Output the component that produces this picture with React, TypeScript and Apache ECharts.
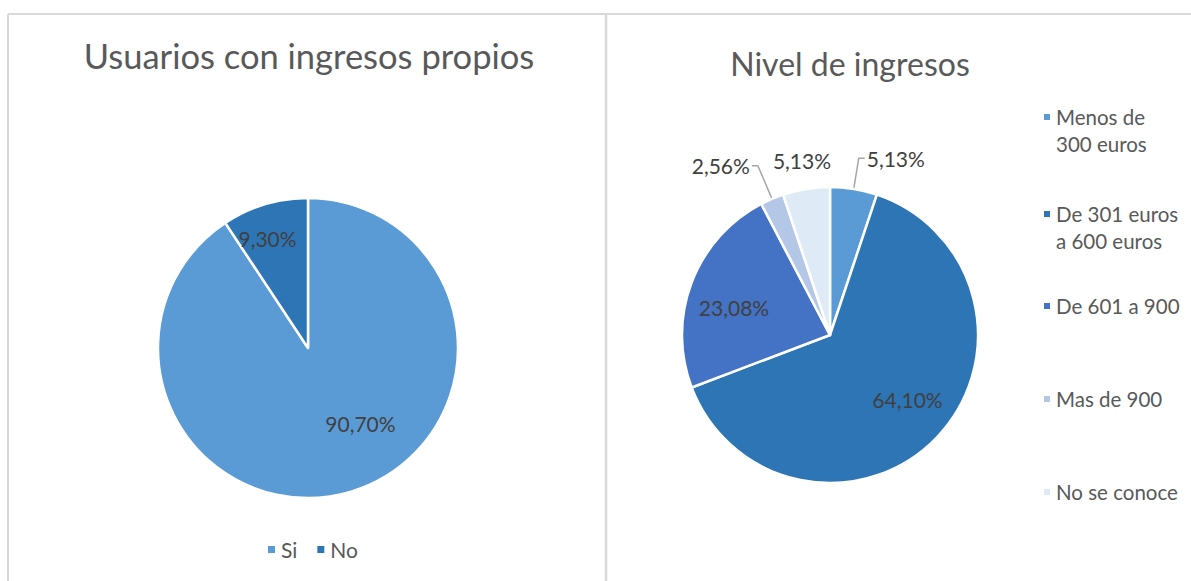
import React, { useEffect, useRef } from "react";
import * as echarts from "echarts";

const leftTitle = "Usuarios con ingresos propios";
const rightTitle = "Nivel de ingresos";

const leftCategories = ["Si", "No"];
const leftValues = [90.7, 9.3];
const leftColors = ["#5B9BD5", "#2E75B6"];

const rightCategories = [
  "Menos de 300 euros",
  "De 301 euros a 600 euros",
  "De 601 a 900",
  "Mas de 900",
  "No se conoce",
];
const rightLegendLabels = [
  "Menos de\n300 euros",
  "De 301 euros\na 600 euros",
  "De 601 a 900",
  "Mas de 900",
  "No se conoce",
];
const rightValues = [5.13, 64.1, 23.08, 2.56, 5.13];
const rightColors = ["#5B9BD5", "#2E75B6", "#4472C4", "#B4C7E7", "#DEEBF7"];

const FONT = "Lato";
const TEXT = "#595959";
const LABEL = "#404040";

const fmt = (v: number) => v.toFixed(2).replace(".", ",") + "%";

// label nudges (style)
const leftNudges = [
  [30, 1],
  [-18, -35],
];
const rightInside = [false, true, true, false, false];
const rightNudges = [
  [0, 0],
  [22, 11],
  [-24, 0],
  [0, 0],
  [31, -9],
];
const rightLineLen = [31, 0, 0, 36, 20];
const rightLineLen2 = [6, 0, 0, 6, 1];
const rightLegendTops = [103.5, 200.5, 292.5, 385.5, 478.5];

export default function App() {
  const ref = useRef<HTMLDivElement>(null);
  useEffect(() => {
    if (!ref.current) return;
    const chart = echarts.init(ref.current, undefined, { renderer: "svg" });
    const border = "#D9D9D9";
    const twoLineIcon = "path://M0,0H8V8H0Z M0,35H0.01V35.01H0Z";
    const option: any = {
      animation: false,
      backgroundColor: "#ffffff",
      title: [
        {
          text: leftTitle,
          left: 304,
          top: 33,
          textAlign: "center",
          textStyle: { fontFamily: FONT, fontSize: 34.5, fontWeight: "normal", color: TEXT },
        },
        {
          text: rightTitle,
          left: 845,
          top: 42,
          textAlign: "center",
          textStyle: { fontFamily: FONT, fontSize: 32, fontWeight: "normal", color: TEXT },
        },
      ],
      legend: [
        {
          data: leftCategories,
          orient: "horizontal",
          left: 266,
          top: 539,
          padding: 0,
          icon: "rect",
          itemWidth: 9,
          itemHeight: 9,
          itemGap: 18,
          textStyle: { fontFamily: FONT, fontSize: 21, color: TEXT },
        },
        ...rightCategories.map((name, i) => ({
          data: [name],
          orient: "vertical",
          left: 1042,
          top: rightLegendTops[i],
          padding: 0,
          icon: rightLegendLabels[i].includes("\n") ? twoLineIcon : "rect",
          itemWidth: 8,
          itemHeight: rightLegendLabels[i].includes("\n") ? 35 : 8,
          formatter: () => rightLegendLabels[i],
          textStyle: { fontFamily: FONT, fontSize: 20.5, color: TEXT, lineHeight: 27 },
        })),
      ],
      graphic: [
        { type: "line", shape: { x1: 8, y1: 14, x2: 8, y2: 581 }, style: { stroke: border, lineWidth: 2 } },
        { type: "line", shape: { x1: 8, y1: 14, x2: 1191, y2: 14 }, style: { stroke: border, lineWidth: 2 } },
        { type: "line", shape: { x1: 606, y1: 14, x2: 606, y2: 581 }, style: { stroke: border, lineWidth: 2.5 } },
      ],
      series: [
        {
          type: "pie",
          center: [308, 348],
          radius: 150,
          startAngle: 90,
          clockwise: true,
          avoidLabelOverlap: false,
          itemStyle: { borderColor: "#ffffff", borderWidth: 2.5 },
          label: {
            position: "inside",
            formatter: (p: any) => fmt(p.value),
            fontFamily: FONT,
            fontSize: 21,
            color: LABEL,
          },
          labelLine: { show: false },
          emphasis: { disabled: true },
          labelLayout: (params: any) => {
            const d = leftNudges[params.dataIndex] || [0, 0];
            return { dx: d[0], dy: d[1] };
          },
          data: leftCategories.map((name, i) => ({
            name,
            value: leftValues[i],
            itemStyle: { color: leftColors[i] },
          })),
        },
        {
          type: "pie",
          center: [830, 335],
          radius: 148,
          startAngle: 90,
          clockwise: true,
          avoidLabelOverlap: false,
          itemStyle: { borderColor: "#ffffff", borderWidth: 2.5 },
          label: {
            formatter: (p: any) => fmt(p.value),
            fontFamily: FONT,
            fontSize: 21,
            color: LABEL,
            distanceToLabelLine: 2,
          },
          labelLine: { show: true, lineStyle: { color: "#A6A6A6", width: 1.5 } },
          emphasis: { disabled: true },
          labelLayout: (params: any) => {
            const d = rightNudges[params.dataIndex] || [0, 0];
            return { dx: d[0], dy: d[1] };
          },
          data: rightCategories.map((name, i) => ({
            name,
            value: rightValues[i],
            itemStyle: { color: rightColors[i] },
            label: { position: rightInside[i] ? "inside" : "outside" },
            labelLine: {
              show: !rightInside[i],
              length: rightLineLen[i],
              length2: rightLineLen2[i],
              lineStyle: { opacity: i === 4 ? 0 : 1 },
            },
          })),
        },
      ],
    };
    chart.setOption(option);
    return () => chart.dispose();
  }, []);
  return (
    <div
      ref={ref}
      style={{ position: "absolute", left: 0, top: 0, width: 1191, height: 581 }}
    />
  );
}
